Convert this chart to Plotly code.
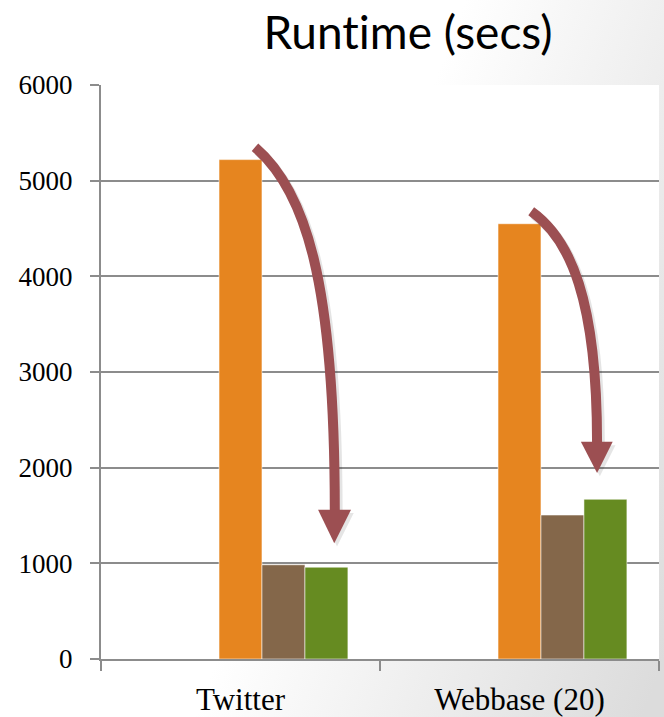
import base64
import plotly.graph_objects as go

# ---- data ----
categories = ["Twitter", "Webbase (20)"]
series_names = ["Series A", "Series B", "Series C"]
orange_vals = [5220, 4550]
brown_vals = [985, 1505]
green_vals = [960, 1670]
y_tickvals = [0, 1000, 2000, 3000, 4000, 5000, 6000]

colors = ["#E6851F", "#84674A", "#668B21"]
bar_w = 0.154
offsets = [-0.077, 0.077, 0.231]

W, H = 664, 717
ML, MR, MT, MB = 101, 5, 85, 58
PW, PH = W - ML - MR, H - MT - MB

fig = go.Figure()
for name, vals, col, off in zip(series_names, [orange_vals, brown_vals, green_vals], colors, offsets):
    fig.add_trace(go.Bar(
        x=categories, y=vals, name=name, width=bar_w, offset=off,
        marker=dict(color=col, line=dict(color="rgba(255,255,255,0.55)", width=1)),
        showlegend=False,
    ))

# background gradient (slide background) as an SVG image
svg = f'''<svg xmlns="http://www.w3.org/2000/svg" width="{W}" height="{H}" viewBox="0 0 {W} {H}">
<defs><linearGradient id="g" gradientUnits="userSpaceOnUse" x1="420" y1="120" x2="812" y2="268">
<stop offset="0" stop-color="#ffffff"/><stop offset="1" stop-color="#dcdcdc"/></linearGradient></defs>
<rect x="0" y="0" width="{W}" height="{H}" fill="url(#g)"/></svg>'''
src = "data:image/svg+xml;base64," + base64.b64encode(svg.encode()).decode()
fig.add_layout_image(dict(
    source=src, xref="paper", yref="paper",
    x=-ML / PW, y=1 + MT / PH, sizex=W / PW, sizey=H / PH,
    xanchor="left", yanchor="top", sizing="stretch", layer="below",
))
fig.add_shape(type="rect", xref="paper", yref="paper", x0=0, x1=1, y0=0, y1=1,
              fillcolor="white", line=dict(width=0), layer="below")

# curved arrows (x as plot-area fraction, y in data units)
arrow_color = "#9C4F52"
arrows = [
    dict(p0=(0.276, 5350), p1=(0.366, 4900), p2=(0.419, 3960), p3=(0.419, 1540),
         head=[(0.389, 1560), (0.448, 1560), (0.418, 1210)]),
    dict(p0=(0.771, 4680), p1=(0.841, 4390), p2=(0.889, 3760), p3=(0.889, 2260),
         head=[(0.860, 2270), (0.917, 2270), (0.889, 1945)]),
]
for sh_dx, sh_dy, col, op in [(0.005, -35, "#000000", 0.10), (0, 0, arrow_color, 1.0)]:
    for a in arrows:
        p0, p1, p2, p3 = a["p0"], a["p1"], a["p2"], a["p3"]
        path = (f"M {p0[0]+sh_dx},{p0[1]+sh_dy} C {p1[0]+sh_dx},{p1[1]+sh_dy} "
                f"{p2[0]+sh_dx},{p2[1]+sh_dy} {p3[0]+sh_dx},{p3[1]+sh_dy}")
        fig.add_shape(type="path", xref="paper", yref="y", path=path,
                      line=dict(color=col, width=10), opacity=op, layer="above")
        h = a["head"]
        hp = "M " + " L ".join(f"{x+sh_dx},{y+sh_dy}" for x, y in h) + " Z"
        fig.add_shape(type="path", xref="paper", yref="y", path=hp,
                      fillcolor=col, line=dict(color=col, width=0), opacity=op, layer="above")

fig.update_layout(
    width=W, height=H,
    margin=dict(l=ML, r=MR, t=MT, b=MB, pad=0),
    paper_bgcolor="white", plot_bgcolor="white",
    barmode="overlay",
    title=dict(text="Runt\u200cime (secs)", x=408 / W, xanchor="center", y=1 - 33 / H, yanchor="middle",
               font=dict(family="Lato", size=46, color="#000000")),
    xaxis=dict(
        type="category", range=[-0.5, 1.5], tickson="boundaries", automargin=False,
        ticks="outside", ticklen=10, tickwidth=2, tickcolor="#8C8C8C",
        showline=True, linecolor="#8C8C8C", linewidth=2, showgrid=False,
        tickfont=dict(family="Liberation Serif", size=31, color="#000000"),
        ticklabelstandoff=12,
    ),
    yaxis=dict(
        range=[0, 6000], tickvals=y_tickvals, automargin=False,
        ticks="outside", ticklen=9, tickwidth=2, tickcolor="#8C8C8C",
        showline=True, linecolor="#8C8C8C", linewidth=2,
        showgrid=True, gridcolor="#8C8C8C", gridwidth=2, zeroline=False,
        tickfont=dict(family="Liberation Serif", size=27, color="#000000"),
        ticklabelstandoff=12,
    ),
)

fig.write_html("out.html")
